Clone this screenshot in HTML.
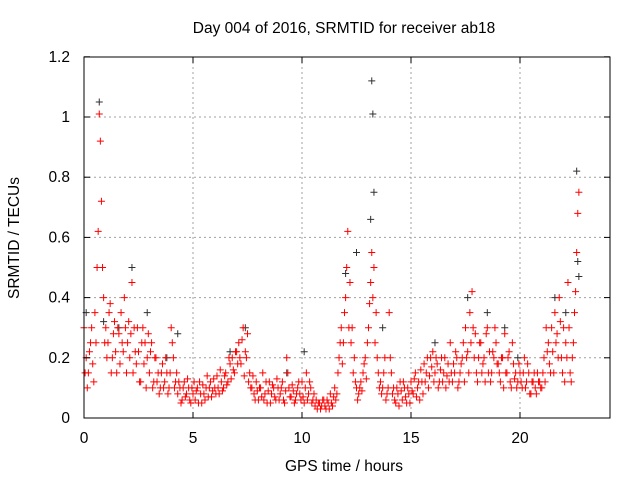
<!DOCTYPE html>
<html><head><meta charset="utf-8"><style>
body{margin:0;background:#fff}
svg{display:block;font-family:"Liberation Sans",sans-serif}
</style></head><body>
<svg id="chart" width="640" height="480" viewBox="0 0 640 480" xmlns="http://www.w3.org/2000/svg">
<rect width="640" height="480" fill="#fff"/>
<text x="344" y="33" font-size="15.5" text-anchor="middle" fill="#000">Day 004 of 2016, SRMTID for receiver ab18</text>
<text x="344" y="471" font-size="15.5" text-anchor="middle">GPS time / hours</text>
<text transform="translate(19,238) rotate(-90)" font-size="15.5" text-anchor="middle">SRMTID / TECUs</text>
<g id="grid"></g>
<g id="marks"></g>
<rect x="84" y="57" width="526" height="361" fill="none" stroke="#000" stroke-width="1"/>
<g id="ticks"></g>
</svg>
<script>
const xTicks=[0,5,10,15,20];
const yTicks=[0,0.2,0.4,0.6,0.8,1,1.2];
const yTickLabels=["0","0.2","0.4","0.6","0.8","1","1.2"];
const redA=[0.3,0.2,0.15,0.25,0.18,0.35,0.5,1.01,0.72,0.4,
0.3,0.25,0.38,0.2,0.32,0.15,0.28,0.35,0.22,0.3,
0.25,0.2,0.45,0.3,0.18,0.22,0.12,0.3,0.25,0.2,
0.15,0.25,0.12,0.2,0.15,0.1,0.18,0.12,0.15,0.1,
0.3,0.2,0.12,0.08,0.1,0.06,0.12,0.08,0.1,0.05,
0.08,0.06,0.1,0.12,0.05,0.08,0.1,0.07,0.12,0.09,
0.1,0.14,0.08,0.12,0.1,0.15,0.12,0.18,0.2,0.15,
0.22,0.25,0.18,0.3,0.22,0.28,0.15,0.1,0.08,0.12,
0.06,0.1,0.15,0.08,0.05,0.12,0.08,0.1,0.06,0.1,
0.08,0.12,0.05,0.2,0.1,0.07,0.09,0.06,0.1,0.08,
0.12,0.05,0.15,0.08,0.1,0.06,0.04,0.03,0.05,0.04,
0.06,0.03,0.05,0.08,0.04,0.1,0.08,0.2,0.3,0.25,
0.4,0.62,0.45,0.3,0.2,0.1,0.08,0.12,0.15,0.2,
0.25,0.38,0.55,0.5,0.35,0.15,0.12,0.1,0.2,0.08,
0.35,0.15,0.1,0.05,0.08,0.12,0.06,0.1,0.05,0.08,
0.12,0.08,0.15,0.1,0.06,0.12,0.18,0.15,0.1,0.2,
0.22,0.15,0.18,0.12,0.2,0.15,0.1,0.18,0.25,0.12,
0.15,0.2,0.12,0.18,0.25,0.3,0.22,0.35,0.42,0.2,
0.15,0.2,0.25,0.18,0.12,0.3,0.22,0.15,0.2,0.25,
0.18,0.12,0.2,0.28,0.15,0.22,0.1,0.18,0.15,0.12,
0.15,0.1,0.2,0.12,0.15,0.08,0.12,0.1,0.15,0.12,
0.1,0.2,0.3,0.25,0.15,0.22,0.35,0.28,0.4,0.2,
0.3,0.25,0.45,0.15,0.2,0.35,0.55,0.75];
const redB=[0.15,0.1,0.22,0.3,0.12,0.25,0.62,0.92,0.5,0.25,
0.2,0.35,0.15,0.28,0.22,0.3,0.18,0.25,0.4,0.15,
0.32,0.28,0.15,0.22,0.3,0.12,0.25,0.18,0.1,0.28,
0.22,0.1,0.2,0.12,0.08,0.15,0.1,0.2,0.08,0.15,
0.25,0.1,0.15,0.12,0.05,0.1,0.07,0.13,0.06,0.1,
0.12,0.09,0.05,0.08,0.11,0.06,0.14,0.1,0.07,0.13,
0.08,0.1,0.16,0.09,0.14,0.11,0.2,0.13,0.16,0.22,
0.18,0.2,0.26,0.14,0.2,0.12,0.1,0.14,0.06,0.09,
0.1,0.07,0.06,0.12,0.09,0.05,0.11,0.07,0.13,0.06,
0.1,0.06,0.09,0.15,0.07,0.11,0.05,0.08,0.12,0.06,
0.07,0.1,0.06,0.12,0.05,0.08,0.06,0.05,0.03,0.06,
0.04,0.06,0.03,0.05,0.07,0.06,0.15,0.25,0.18,0.35,
0.5,0.3,0.25,0.15,0.12,0.06,0.1,0.09,0.18,0.13,
0.3,0.45,0.4,0.25,0.2,0.1,0.08,0.15,0.06,0.1,
0.2,0.08,0.06,0.1,0.04,0.09,0.12,0.07,0.1,0.05,
0.09,0.13,0.07,0.12,0.16,0.08,0.12,0.2,0.14,0.17,
0.12,0.2,0.1,0.16,0.12,0.2,0.14,0.12,0.15,0.18,
0.22,0.1,0.15,0.2,0.12,0.2,0.15,0.25,0.3,0.28,
0.12,0.25,0.15,0.2,0.28,0.15,0.12,0.22,0.3,0.18,
0.15,0.2,0.1,0.15,0.2,0.12,0.25,0.13,0.1,0.18,
0.12,0.15,0.1,0.18,0.08,0.12,0.15,0.08,0.12,0.1,
0.15,0.12,0.22,0.18,0.3,0.15,0.25,0.2,0.32,0.15,
0.12,0.2,0.3,0.12,0.25,0.42,0.68];
const blackTimes=[0.1,0.7,0.9,1.6,2.2,2.9,3.8,4.3,6.7,7.4,9.3,10.1,12.0,12.5,13.15,13.2,13.25,13.3,13.7,16.1,17.6,18.5,19.3,19.9,21.6,22.1,22.6,22.65,22.7];
const blackValues=[0.35,1.05,0.32,0.3,0.5,0.35,0.2,0.28,0.22,0.3,0.15,0.22,0.48,0.55,0.66,1.12,1.01,0.75,0.3,0.25,0.4,0.35,0.3,0.2,0.4,0.35,0.82,0.52,0.47];
const X=t=>84+t*21.8;
const Y=v=>418-v*301;
const NS="http://www.w3.org/2000/svg";
const grid=document.getElementById('grid'),ticks=document.getElementById('ticks'),marks=document.getElementById('marks');
function line(p,x1,y1,x2,y2,st,dash){const l=document.createElementNS(NS,'line');l.setAttribute('x1',x1);l.setAttribute('y1',y1);l.setAttribute('x2',x2);l.setAttribute('y2',y2);l.setAttribute('stroke',st);if(dash)l.setAttribute('stroke-dasharray',dash);p.appendChild(l);return l;}
xTicks.forEach(t=>{const x=X(t);
 if(t>0){const g=line(grid,x,57,x,418,'#a0a0a0','2,3');

}
 line(ticks,x,418,x,412,'#000');line(ticks,x,57,x,63,'#000');
 const tx=document.createElementNS(NS,'text');tx.setAttribute('x',x);tx.setAttribute('y',443);tx.setAttribute('font-size','15.5');tx.setAttribute('text-anchor','middle');tx.textContent=t;


 ticks.appendChild(tx);});
yTicks.forEach((v,i)=>{const y=Y(v);
 if(v>0&&v<1.2){const g=line(grid,84,y,610,y,'#a0a0a0','2,3');

}
 line(ticks,84,y,90,y,'#000');line(ticks,610,y,604,y,'#000');
 const tx=document.createElementNS(NS,'text');tx.setAttribute('x',70);tx.setAttribute('y',y+5);tx.setAttribute('font-size','15.5');tx.setAttribute('text-anchor','end');tx.textContent=yTickLabels[i];


 ticks.appendChild(tx);});
function plus(t,v,c,name){const x=X(t),y=Y(v);const p=document.createElementNS(NS,'path');p.setAttribute('d',`M${x-3.5},${y}H${x+3.5}M${x},${y-3.5}V${y+3.5}`);p.setAttribute('stroke',c);p.setAttribute('stroke-width','1');p.setAttribute('fill','none');


marks.appendChild(p);}
blackTimes.forEach((t,i)=>plus(t,blackValues[i],'#303030','black-point'));
redA.forEach((v,i)=>plus(i*0.1,v,'#ff0000','red-point'));
redB.forEach((v,i)=>plus(0.05+i*0.1,v,'#ff0000','red-point'));
</script>
</body></html>
